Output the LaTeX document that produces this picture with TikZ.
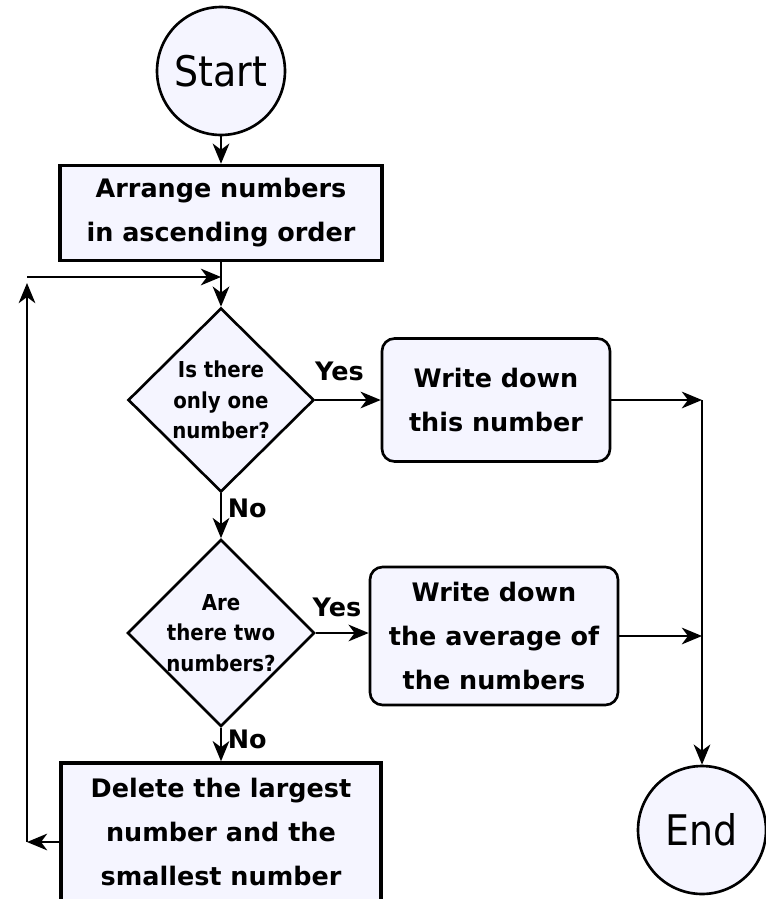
\documentclass[tikz,border=0pt]{standalone}
\usepackage{fontspec}
\setmainfont{DejaVu Sans}
\newfontfamily\condfont{DejaVu Sans Condensed}
\usepackage{xcolor}
\usetikzlibrary{shapes.geometric,arrows.meta}
\definecolor{boxfill}{RGB}{245,245,255}

\begin{document}
\begin{tikzpicture}[x=0.02cm, y=-0.02cm,
    every node/.style={font=\bfseries\fontsize{14.5}{25}\selectfont, align=center},
    term/.style={circle, draw, line width=1.5pt, fill=boxfill, minimum size=2.56cm, inner sep=0pt, font=\condfont\fontsize{24}{28}\selectfont},
    proc/.style={rectangle, draw, line width=2pt, fill=boxfill, inner sep=0pt},
    outbox/.style={rectangle, rounded corners=0.25cm, draw, line width=1.5pt, fill=boxfill, inner sep=0pt},
    ask/.style={diamond, draw, line width=1.5pt, fill=boxfill, inner sep=0pt, aspect=1, font=\condfont\bfseries\fontsize{12.5}{17.5}\selectfont},
    arr/.style={-{Stealth[length=11.5pt, width=9.5pt, inset=3.5pt]}, line width=1.2pt}]
          \useasboundingbox (0,0) rectangle (765,899);
          \node [term] (start) at (221, 71) {Start};
          \node [proc, minimum width=6.44cm, minimum height=1.9cm] (arrange) at (221, 213) {Arrange numbers\\in ascending order};
          \node [ask, minimum width=3.72cm, minimum height=3.68cm] (ask1) at (221, 400) {Is there\\only one\\number?};
          \node [outbox, minimum width=4.56cm, minimum height=2.46cm] (single) at (496, 400) {Write down\\this number};
          \node [ask, minimum width=3.74cm, minimum height=3.62cm] (ask2) at (221, 633) {Are\\there two\\numbers?};
          \node [outbox, minimum width=4.96cm, minimum height=2.76cm] (average) at (494, 636) {Write down\\the average of\\the numbers};
          \node [proc, minimum width=6.4cm, minimum height=2.76cm] (delete) at (221, 832) {Delete the largest\\number and the\\smallest number};
          \node [term] (end) at (702, 830) {End};
          \coordinate (jn) at (221, 277);
          \coordinate (lb) at (27, 842);
          \coordinate (lt) at (27, 283);
          \coordinate (rt) at (end |- single.east);
          \draw [arr] (start) -- (arrange);
          \draw [arr] (arrange) -- (ask1);
          \draw [arr] (ask1.east) -- (single.west) node[pos=0.37, above, yshift=7pt]{Yes};
          \draw [arr] (ask1) -- (ask2) node[pos=0.34, right]{No};
          \draw [arr] (ask2.east) -- (ask2.east -| average.west) node[pos=0.4, above, yshift=5pt]{Yes};
          \draw [arr] (ask2) -- (delete) node[pos=0.35, right]{No};
          \draw [arr] (lb -| delete.west) -- (lb);
          \draw [arr] (lb) -- (lt);
          \draw [arr] (lt |- jn) -- (jn);
          \draw [arr] (single.east) -- (rt);
          \draw [arr] (average.east) -- (average.east -| end);
          \draw [arr] (rt) -- (end);
        \end{tikzpicture}
\end{document}
